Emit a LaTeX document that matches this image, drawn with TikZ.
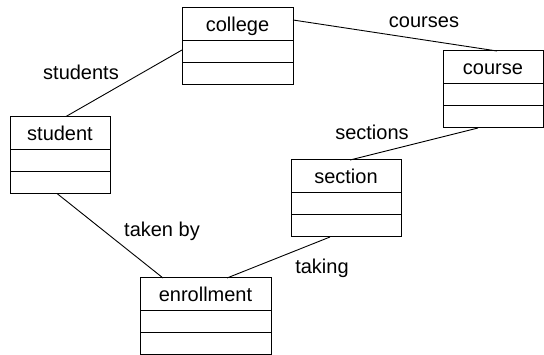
\documentclass[tikz,border=0pt]{standalone}
\usepackage{fontspec}
\setmainfont{Liberation Sans}
\usetikzlibrary{positioning}

\begin{document}
\begin{tikzpicture}[
    x=1pt, y=-1pt,
    node distance=0pt,
    every node/.style={font=\fontsize{20}{24}\selectfont},
    head/.style={
        draw,
        line width=1pt,
        outer sep=0pt,
        inner sep=0pt,
        text height=15pt,
        text depth=0pt,
        minimum height=33pt
    },
    slot/.style={
        draw,
        line width=1pt,
        outer sep=0pt,
        inner sep=0pt,
        minimum height=22pt
    },
    link/.style={line width=0.9pt},
    lbl/.style={anchor=base}
]
  \useasboundingbox (0,0) rectangle (544,355);

  % classes: header + two empty compartments
  \node[head, minimum width=111pt] (college) at (237.5,24.5) {college};
  \node[slot, minimum width=111pt, below=of college] (college1) {};
  \node[slot, minimum width=111pt, below=of college1] (college2) {};

  \node[head, minimum width=100pt] (course) at (493,67.5) {course};
  \node[slot, minimum width=100pt, below=of course] (course1) {};
  \node[slot, minimum width=100pt, below=of course1] (course2) {};

  \node[head, minimum width=100pt] (student) at (60,133) {student};
  \node[slot, minimum width=100pt, below=of student] (student1) {};
  \node[slot, minimum width=100pt, below=of student1] (student2) {};

  \node[head, minimum width=110pt] (section) at (346,176.5) {section};
  \node[slot, minimum width=110pt, below=of section] (section1) {};
  \node[slot, minimum width=110pt, below=of section1] (section2) {};

  \node[head, minimum width=131pt] (enrollment) at (205.5,294.5) {enrollment};
  \node[slot, minimum width=131pt, below=of enrollment] (enrollment1) {};
  \node[slot, minimum width=131pt, below=of enrollment1] (enrollment2) {};

  % associations
  \draw[link] ([yshift=4.5pt]college.east) -- ([xshift=4pt]course.north);
  \draw[link] ([yshift=2pt]college1.west) -- ([xshift=6pt]student.north);
  \draw[link] ([xshift=-3pt]student2.south) -- ([xshift=-42.5pt]enrollment.north);
  \draw[link] ([xshift=21.5pt]enrollment.north) -- ([xshift=-16pt]section2.south);
  \draw[link] ([xshift=4pt]section.north) -- ([xshift=-15pt]course2.south);

  % role names
  \node[lbl] (courses) at (424,28) {courses};
  \node[lbl] (students) at (81,80) {students};
  \node[lbl] (sections) at (372,140) {sections};
  \node[lbl] (takenby) at (162,237) {taken by};
  \node[lbl] (taking) at (322,274) {taking};
\end{tikzpicture}
\end{document}
